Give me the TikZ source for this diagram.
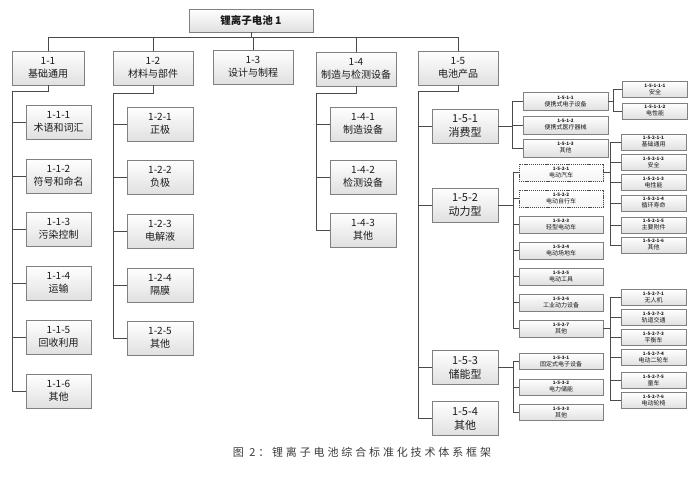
\documentclass[tikz,border=0pt]{standalone}
\usepackage{fontspec}
\setmainfont{Noto Sans CJK SC}
\newfontfamily\capfont[LetterSpace=26]{Noto Sans CJK SC}
\usetikzlibrary{shadows}
\definecolor{boxborder}{HTML}{808080}
\definecolor{boxbot}{HTML}{E0E0E0}
\definecolor{lnc}{HTML}{4A4A4A}
\definecolor{txt}{HTML}{1A1A1A}
\definecolor{captxt}{HTML}{3C3C3C}
\newcommand{\nm}[1]{{\fontsize{4.6}{5}\selectfont\bfseries #1}}
\tikzset{
  box/.style={draw=boxborder, line width=0.6pt, top color=white, bottom color=boxbot,
    align=center, inner sep=0pt, text=txt,
    drop shadow={shadow xshift=0.8pt, shadow yshift=-0.8pt, opacity=0.35, fill=gray}},
  rootbox/.style={box, minimum width=124, minimum height=23, font=\fontsize{10.5}{12}\selectfont\bfseries},
  lone/.style={box, minimum width=80, minimum height=34, font=\fontsize{10}{13}\selectfont},
  ltwo/.style={box, minimum width=66, minimum height=34, font=\fontsize{10}{13}\selectfont},
  lfive/.style={box, minimum width=66, minimum height=34, font=\fontsize{11}{14}\selectfont},
  sthree/.style={box, minimum width=84, minimum height=17, font=\fontsize{6}{7}\selectfont},
  sdash/.style={sthree, draw=lnc, dash pattern=on 1.2pt off 0.9pt, top color=white, bottom color=white!96!black},
  sfour/.style={box, minimum width=65, minimum height=16, font=\fontsize{6}{7}\selectfont},
  conn/.style={draw=lnc, line width=0.75pt},
}
\begin{document}
\begin{tikzpicture}[x=1pt,y=-1pt]
\useasboundingbox[fill=white] (0,0) rectangle (700,479);
% root and level 1
\node[rootbox] (root) at (251,20.5) {锂离子电池 1};
\node[lone, minimum width=72] (n11) at (48,68) {1-1\\基础通用};
\node[lone] (n12) at (153,68) {1-2\\材料与部件};
\node[lone] (n13) at (253,67) {1-3\\设计与制程};
\node[lone] (n14) at (356,69) {1-4\\制造与检测设备};
\node[lone] (n15) at (458,68) {1-5\\电池产品};
\coordinate (bus) at (0,37);
\draw[conn] (n11.north) -- (n11.north |- bus) -- (n15.north |- bus) -- (n15.north);
\draw[conn] (root.south) -- (root.south |- bus);
\foreach \n in {n12,n13,n14} \draw[conn] (\n.north) -- (\n.north |- bus);
% 1-1 children
\node[ltwo, minimum width=65] (n111) at (58.5,122) {1-1-1\\术语和词汇};
\node[ltwo, minimum width=65] (n112) at (58.5,176) {1-1-2\\符号和命名};
\node[ltwo, minimum width=65] (n113) at (58.5,229) {1-1-3\\污染控制};
\node[ltwo, minimum width=65] (n114) at (58.5,283) {1-1-4\\运输};
\node[ltwo, minimum width=65] (n115) at (58.5,337) {1-1-5\\回收利用};
\node[ltwo, minimum width=65] (n116) at (58.5,391) {1-1-6\\其他};
\coordinate (s11) at (12,91);
\draw[conn] (n11.south) -- (n11.south |- s11) -- (s11) -- (s11 |- n116.west);
\foreach \n in {n111,n112,n113,n114,n115,n116} \draw[conn] (s11 |- \n.west) -- (\n.west);
% 1-2 children
\node[ltwo] (n121) at (160,124) {1-2-1\\正极};
\node[ltwo] (n122) at (160,177) {1-2-2\\负极};
\node[ltwo] (n123) at (160,231) {1-2-3\\电解液};
\node[ltwo] (n124) at (160,285) {1-2-4\\隔膜};
\node[ltwo] (n125) at (160,338) {1-2-5\\其他};
\coordinate (s12) at (113,93);
\draw[conn] (n12.south) -- (n12.south |- s12) -- (s12) -- (s12 |- n125.west);
\foreach \n in {n121,n122,n123,n124,n125} \draw[conn] (s12 |- \n.west) -- (\n.west);
% 1-4 children
\node[ltwo] (n141) at (363,124) {1-4-1\\制造设备};
\node[ltwo] (n142) at (363,177) {1-4-2\\检测设备};
\node[ltwo] (n143) at (363,230) {1-4-3\\其他};
\coordinate (s14) at (316,93);
\draw[conn] (n14.south) -- (n14.south |- s14) -- (s14) -- (s14 |- n143.west);
\foreach \n in {n141,n142,n143} \draw[conn] (s14 |- \n.west) -- (\n.west);
% 1-5 children
\node[lfive] (n151) at (465,126) {1-5-1\\消费型};
\node[lfive] (n152) at (465,205) {1-5-2\\动力型};
\node[lfive] (n153) at (465,367.5) {1-5-3\\储能型};
\node[lfive] (n154) at (465,418.5) {1-5-4\\其他};
\coordinate (s15) at (418,91);
\draw[conn] (n15.south) -- (n15.south |- s15) -- (s15) -- (s15 |- n154.west);
\foreach \n in {n151,n152,n153,n154} \draw[conn] (s15 |- \n.west) -- (\n.west);
% 1-5-1 children
\node[sthree, minimum width=85, minimum height=18] (n1511) at (565.5,101.5) {\nm{1-5-1-1}\\便携式电子设备};
\node[sthree, minimum width=85, minimum height=18] (n1512) at (565.5,125) {\nm{1-5-1-2}\\便携式医疗器械};
\node[sthree, minimum width=85, minimum height=18] (n1513) at (565.5,148) {\nm{1-5-1-3}\\其他};
\coordinate (s151) at (512,0);
\draw[conn] (n151.east) -- (s151 |- n151.east);
\draw[conn] (s151 |- n1511.west) -- (s151 |- n1513.west);
\foreach \n in {n1511,n1512,n1513} \draw[conn] (s151 |- \n.west) -- (\n.west);
% 1-5-1-1 children
\node[sfour] (n15111) at (655,89.5) {\nm{1-5-1-1-1}\\安全};
\node[sfour] (n15112) at (655,111) {\nm{1-5-1-1-2}\\电性能};
\coordinate (s1511) at (613,0);
\draw[conn] (n1511.east) -- (s1511 |- n1511.east);
\draw[conn] (s1511 |- n15111.west) -- (s1511 |- n15112.west);
\foreach \n in {n15111,n15112} \draw[conn] (s1511 |- \n.west) -- (\n.west);
% 1-5-2 children
\node[sdash] (n1521) at (561,172.5) {\nm{1-5-2-1}\\电动汽车};
\node[sdash] (n1522) at (561,198.5) {\nm{1-5-2-2}\\电动自行车};
\node[sthree] (n1523) at (561,224.5) {\nm{1-5-2-3}\\轻型电动车};
\node[sthree] (n1524) at (561,250.5) {\nm{1-5-2-4}\\电动场地车};
\node[sthree] (n1525) at (561,276.5) {\nm{1-5-2-5}\\电动工具};
\node[sthree] (n1526) at (561,302.5) {\nm{1-5-2-6}\\工业动力设备};
\node[sthree] (n1527) at (561,328.5) {\nm{1-5-2-7}\\其他};
\coordinate (s152) at (513,0);
\draw[conn] (n152.east) -- (s152 |- n152.east);
\draw[conn] (s152 |- n1521.west) -- (s152 |- n1527.west);
\foreach \n in {n1521,n1522,n1523,n1524,n1525,n1526,n1527} \draw[conn] (s152 |- \n.west) -- (\n.west);
% 1-5-2-1 children
\node[sfour] (n15211) at (653.5,142) {\nm{1-5-2-1-1}\\基础通用};
\node[sfour] (n15212) at (653.5,162.5) {\nm{1-5-2-1-2}\\安全};
\node[sfour] (n15213) at (653.5,182.5) {\nm{1-5-2-1-3}\\电性能};
\node[sfour] (n15214) at (653.5,203) {\nm{1-5-2-1-4}\\循环寿命};
\node[sfour] (n15215) at (653.5,225) {\nm{1-5-2-1-5}\\主要附件};
\node[sfour] (n15216) at (653.5,245) {\nm{1-5-2-1-6}\\其他};
\coordinate (s1521) at (610,0);
\draw[conn] (n1521.east) -- (s1521 |- n1521.east);
\draw[conn] (s1521 |- n15211.west) -- (s1521 |- n15216.west);
\foreach \n in {n15211,n15212,n15213,n15214,n15215,n15216} \draw[conn] (s1521 |- \n.west) -- (\n.west);
% 1-5-2-7 children
\node[sfour] (n15271) at (653.5,297.5) {\nm{1-5-2-7-1}\\无人机};
\node[sfour] (n15272) at (653.5,317.5) {\nm{1-5-2-7-2}\\轨道交通};
\node[sfour] (n15273) at (653.5,337.5) {\nm{1-5-2-7-3}\\平衡车};
\node[sfour] (n15274) at (653.5,357.5) {\nm{1-5-2-7-4}\\电动二轮车};
\node[sfour] (n15275) at (653.5,380.5) {\nm{1-5-2-7-5}\\童车};
\node[sfour] (n15276) at (653.5,400.5) {\nm{1-5-2-7-6}\\电动轮椅};
\coordinate (s1527) at (610,0);
\draw[conn] (n1527.east) -- (s1527 |- n1527.east);
\draw[conn] (s1527 |- n15271.west) -- (s1527 |- n15276.west);
\foreach \n in {n15271,n15272,n15273,n15274,n15275,n15276} \draw[conn] (s1527 |- \n.west) -- (\n.west);
% 1-5-3 children
\node[sthree, minimum height=16] (n1531) at (561,361.5) {\nm{1-5-3-1}\\固定式电子设备};
\node[sthree, minimum height=16] (n1532) at (561,387) {\nm{1-5-3-2}\\电力储能};
\node[sthree, minimum height=16] (n1533) at (561,412.5) {\nm{1-5-3-3}\\其他};
\coordinate (s153) at (513,0);
\draw[conn] (n153.east) -- (s153 |- n153.east);
\draw[conn] (s153 |- n1531.west) -- (s153 |- n1533.west);
\foreach \n in {n1531,n1532,n1533} \draw[conn] (s153 |- \n.west) -- (\n.west);
% caption
\node[text=captxt, font=\fontsize{11}{13}\selectfont\capfont, inner sep=0pt] (cap) at (362,452) {图 2：锂离子电池综合标准化技术体系框架};
\end{tikzpicture}
\end{document}
